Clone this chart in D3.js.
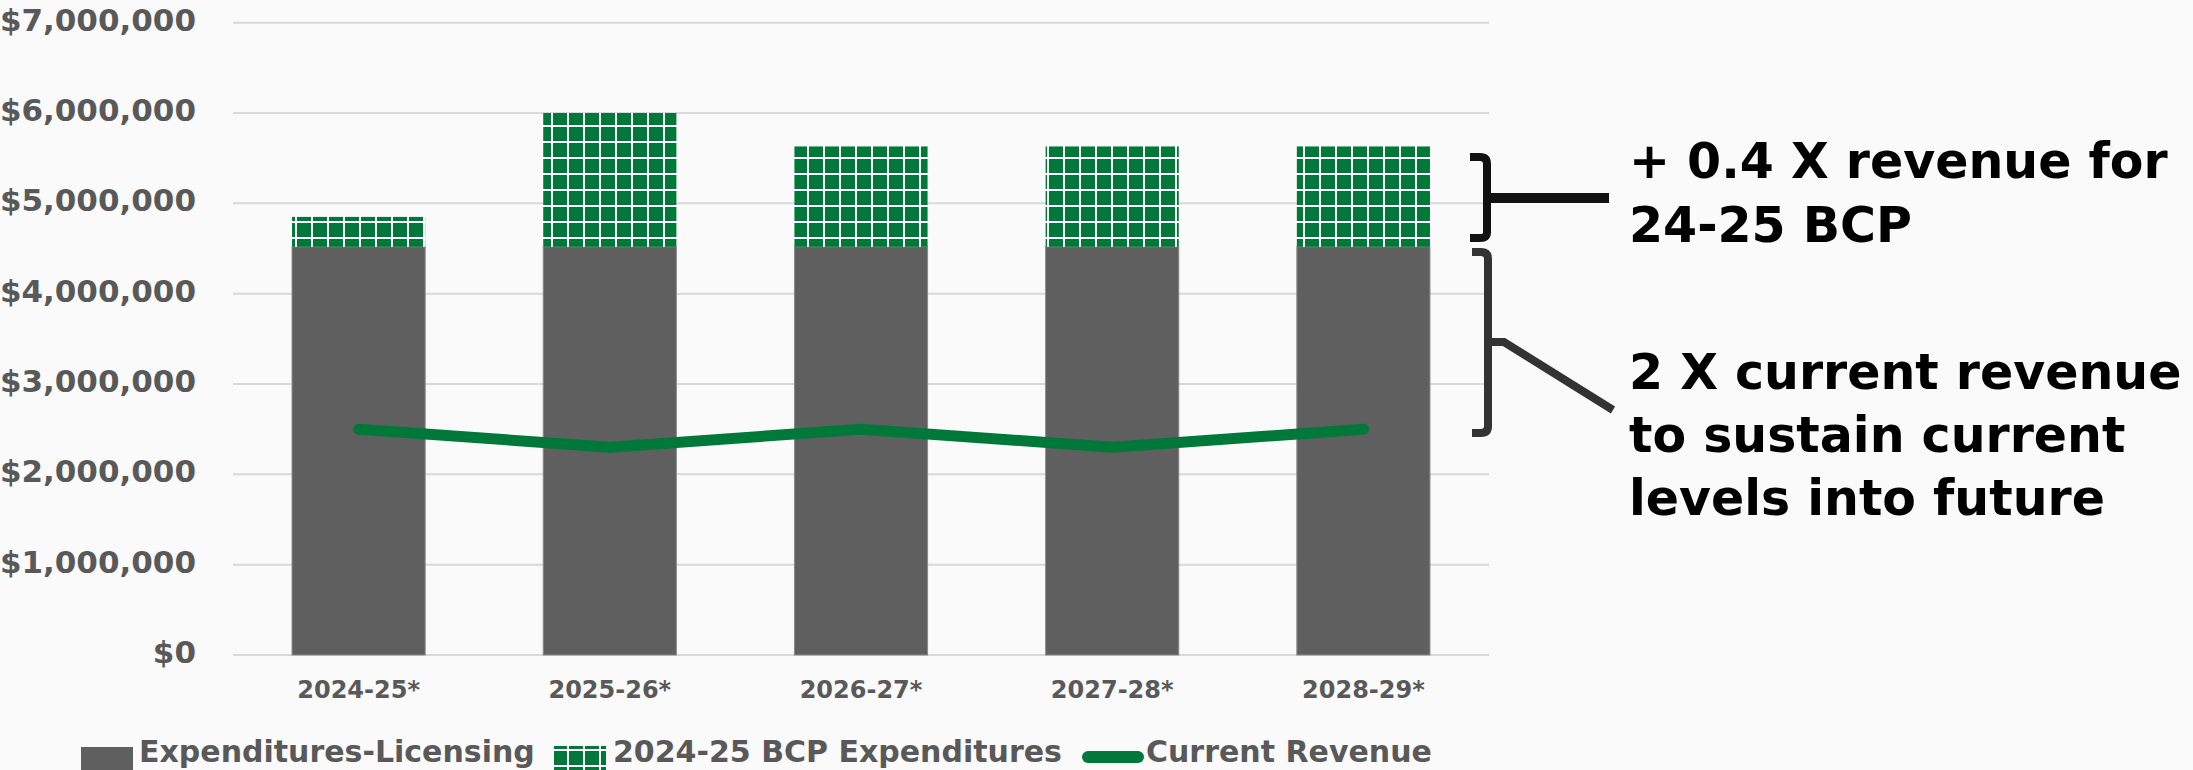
<!DOCTYPE html>
<html>
<head>
<meta charset="utf-8">
<script src="https://cdn.jsdelivr.net/npm/d3@7"></script>
<style>
  html, body { margin: 0; padding: 0; background: #fafafa; }
  svg { display: block; }
  text { font-family: "DejaVu Sans", Verdana, sans-serif; font-weight: bold; }
</style>
</head>
<body>
<svg id="chart" width="2193" height="770"></svg>
<script>
// ---- data ----
const categories = ["2024-25*", "2025-26*", "2026-27*", "2027-28*", "2028-29*"];
const licensing = [4520000, 4520000, 4520000, 4520000, 4520000];
const bcp = [330000, 1480000, 1110000, 1110000, 1110000];
const revenue = [2500000, 2300000, 2500000, 2300000, 2500000];
const yTicks = [0, 1000000, 2000000, 3000000, 4000000, 5000000, 6000000, 7000000];
const legendLabels = ["Expenditures-Licensing", "2024-25 BCP Expenditures", "Current Revenue"];
const noteTop = ["+ 0.4 X revenue for", "24-25 BCP"];
const noteBottom = ["2 X current revenue", "to sustain current", "levels into future"];

// ---- styles ----
const GRAY = "#5f5f5f";
const GREEN = "#00783a";
const TEXT = "#595959";

const svg = d3.select("#chart");
const defs = svg.append("defs");
const pat = defs.append("pattern")
  .attr("id", "grid").attr("patternUnits", "userSpaceOnUse")
  .attr("width", 16).attr("height", 16);
pat.append("rect").attr("width", 16).attr("height", 16).attr("fill", GREEN);
pat.append("rect").attr("x", 7).attr("y", 0).attr("width", 2).attr("height", 16).attr("fill", "#ffffff");
pat.append("rect").attr("x", 0).attr("y", 13).attr("width", 16).attr("height", 2).attr("fill", "#ffffff");

const x = d3.scaleBand().domain(categories).range([233, 1489]).paddingInner(0.47).paddingOuter(0.235);
const y = d3.scaleLinear().domain([0, 7000000]).range([655, 22.7]);

// gridlines
svg.append("g").selectAll("line").data(yTicks).join("line")
  .attr("x1", 233).attr("x2", 1489)
  .attr("y1", d => y(d)).attr("y2", d => y(d))
  .attr("stroke", "#d9d9d9").attr("stroke-width", 2);

// y labels
const fmt = d3.format("$,.0f");
svg.append("g").selectAll("text").data(yTicks).join("text")
  .attr("x", 196).attr("y", d => y(d) + 8)
  .attr("text-anchor", "end").attr("font-size", 31).attr("fill", TEXT)
  .text(d => fmt(d));

// bars: licensing
svg.append("g").selectAll("rect").data(categories).join("rect")
  .attr("x", d => x(d)).attr("width", x.bandwidth())
  .attr("y", (d, i) => y(licensing[i]))
  .attr("height", (d, i) => y(0) - y(licensing[i]))
  .attr("fill", GRAY).attr("stroke", "#8a8a8a").attr("stroke-width", 1);

// bars: bcp stacked
svg.append("g").selectAll("rect").data(categories).join("rect")
  .attr("x", d => x(d)).attr("width", x.bandwidth())
  .attr("y", (d, i) => y(licensing[i] + bcp[i]))
  .attr("height", (d, i) => y(licensing[i]) - y(licensing[i] + bcp[i]))
  .attr("fill", "url(#grid)");

// revenue line
const line = d3.line()
  .x((d, i) => x(categories[i]) + x.bandwidth() / 2)
  .y(d => y(d));
svg.append("path").datum(revenue)
  .attr("d", line).attr("fill", "none")
  .attr("stroke", GREEN).attr("stroke-width", 11)
  .attr("stroke-linecap", "round").attr("stroke-linejoin", "round");

// x labels
svg.append("g").selectAll("text").data(categories).join("text")
  .attr("x", d => x(d) + x.bandwidth() / 2).attr("y", 698)
  .attr("text-anchor", "middle").attr("font-size", 24).attr("fill", TEXT)
  .text(d => d);

// legend
const lg = svg.append("g");
lg.append("rect").attr("x", 81).attr("y", 747).attr("width", 52).attr("height", 23).attr("fill", GRAY);
lg.append("text").attr("x", 139).attr("y", 762).attr("font-size", 30).attr("fill", TEXT).text(legendLabels[0]);
lg.append("rect").attr("x", 554).attr("y", 746).attr("width", 52).attr("height", 24).attr("fill", "url(#grid)");
lg.append("text").attr("x", 613).attr("y", 762).attr("font-size", 30).attr("fill", TEXT).text(legendLabels[1]);
lg.append("line").attr("x1", 1088).attr("x2", 1138).attr("y1", 757).attr("y2", 757)
  .attr("stroke", GREEN).attr("stroke-width", 12).attr("stroke-linecap", "round");
lg.append("text").attr("x", 1146).attr("y", 762).attr("font-size", 30).attr("fill", TEXT).text(legendLabels[2]);

// annotation brackets
const ann = svg.append("g").attr("fill", "none");
ann.append("path")
  .attr("d", "M1470,157 H1480 Q1487,157 1487,164 V232 Q1487,238 1480,238 H1470")
  .attr("stroke", "#111").attr("stroke-width", 8);
ann.append("path").attr("d", "M1487,198 H1609").attr("stroke", "#111").attr("stroke-width", 10);
ann.append("path")
  .attr("d", "M1472,252 H1481 Q1488,252 1488,259 V426 Q1488,433 1481,433 H1472")
  .attr("stroke", "#333").attr("stroke-width", 8);
ann.append("path").attr("d", "M1488,342 H1504 L1613,410").attr("stroke", "#333").attr("stroke-width", 8)
  .attr("stroke-linejoin", "miter");

// annotation text
svg.append("g").selectAll("text").data(noteTop).join("text")
  .attr("x", 1629).attr("y", (d, i) => 178 + i * 64)
  .attr("font-size", 49).attr("fill", "#000").text(d => d);
svg.append("g").selectAll("text").data(noteBottom).join("text")
  .attr("x", 1629).attr("y", (d, i) => 389 + i * 63)
  .attr("font-size", 49).attr("fill", "#000").text(d => d);
</script>
</body>
</html>
